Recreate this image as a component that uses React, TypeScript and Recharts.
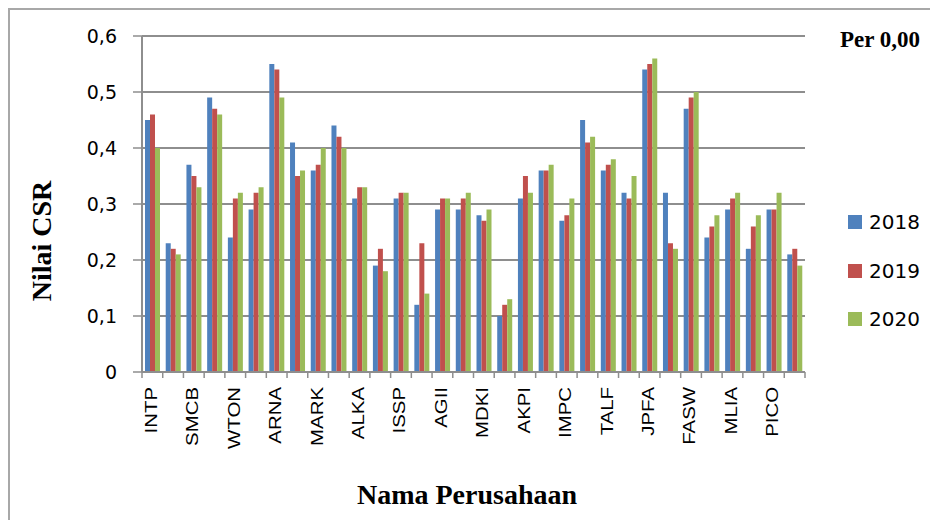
import React from "react"
import { BarChart, Bar, XAxis, YAxis, CartesianGrid, Legend } from "recharts"

// only every second company name is printed on the axis
const companies = [
  "INTP", "SMBR", "SMCB", "WSBP", "WTON", "AMFG", "ARNA", "KIAS",
  "MARK", "TOTO", "ALKA", "BTON", "ISSP", "LION", "AGII", "EKAD",
  "MDKI", "INCI", "AKPI", "APLI", "IMPC", "IGAR", "TALF", "TRST",
  "JPFA", "CPIN", "FASW", "INKP", "MLIA", "KDSI", "PICO", "SPMA",
]

const csr2018 = [
  0.45, 0.23, 0.37, 0.49, 0.24, 0.29, 0.55, 0.41, 0.36, 0.44, 0.31, 0.19, 0.31, 0.12, 0.29, 0.29,
  0.28, 0.1, 0.31, 0.36, 0.27, 0.45, 0.36, 0.32, 0.54, 0.32, 0.47, 0.24, 0.29, 0.22, 0.29, 0.21,
]
const csr2019 = [
  0.46, 0.22, 0.35, 0.47, 0.31, 0.32, 0.54, 0.35, 0.37, 0.42, 0.33, 0.22, 0.32, 0.23, 0.31, 0.31,
  0.27, 0.12, 0.35, 0.36, 0.28, 0.41, 0.37, 0.31, 0.55, 0.23, 0.49, 0.26, 0.31, 0.26, 0.29, 0.22,
]
const csr2020 = [
  0.4, 0.21, 0.33, 0.46, 0.32, 0.33, 0.49, 0.36, 0.4, 0.4, 0.33, 0.18, 0.32, 0.14, 0.31, 0.32,
  0.29, 0.13, 0.32, 0.37, 0.31, 0.42, 0.38, 0.35, 0.56, 0.22, 0.5, 0.28, 0.32, 0.28, 0.32, 0.19,
]

const yTicks = [0, 0.1, 0.2, 0.3, 0.4, 0.5, 0.6]

const series = [
  { key: "y2018", label: "2018", color: "#4F81BD" },
  { key: "y2019", label: "2019", color: "#C0504D" },
  { key: "y2020", label: "2020", color: "#9BBB59" },
]

const data = companies.map((name, i) => ({
  name,
  y2018: csr2018[i],
  y2019: csr2019[i],
  y2020: csr2020[i],
}))

// layout
const W = 938
const H = 528
const MARGIN = { top: 36, right: 133, left: 82, bottom: 56 }
const Y_AXIS_W = 60
const PLOT_LEFT = MARGIN.left + Y_AXIS_W
const PLOT_W = W - PLOT_LEFT - MARGIN.right
const AXIS_Y = 372
const GRID = "#8e8e8e"

const fmt = (v: number) => (v === 0 ? "0" : v.toFixed(1).replace(".", ","))

const CategoryTick = (props: any) => {
  const { x, payload, index } = props
  const bw = PLOT_W / companies.length
  const left = x - bw / 2
  return (
    <g>
      <line x1={left} x2={left} y1={AXIS_Y} y2={AXIS_Y + 6} stroke={GRID} strokeWidth={1.5} />
      {index === companies.length - 1 && (
        <line x1={left + bw} x2={left + bw} y1={AXIS_Y} y2={AXIS_Y + 6} stroke={GRID} strokeWidth={1.5} />
      )}
      {index % 2 === 0 && (
        <g transform={`translate(${x},${AXIS_Y + 15})`}>
          <text
            transform="rotate(-90) scale(1.2,1)"
            textAnchor="end"
            dy="0.26em"
            fontFamily="Liberation Sans, Arial, sans-serif"
            fontSize={17}
            fill="#000"
          >
            {payload.value}
          </text>
        </g>
      )}
    </g>
  )
}

const renderLegend = ({ payload }: any) => (
  <div style={{ fontFamily: "DejaVu Sans, sans-serif", fontSize: 20, color: "#000" }}>
    {payload.map((p: any) => (
      <div key={p.value} style={{ display: "flex", alignItems: "center", height: 48.5 }}>
        <span style={{ width: 14, height: 14, background: p.color, marginRight: 7, display: "inline-block" }} />
        <span style={{ lineHeight: 1 }}>{p.value}</span>
      </div>
    ))}
  </div>
)

const serif = "Liberation Serif, 'Times New Roman', serif"

export default function App() {
  return (
    <div style={{ position: "relative", width: 922, height: 512 }}>
      <div
        style={{
          position: "absolute",
          inset: 0,
          borderLeft: "2px solid #a8a8a8",
          borderTop: "2px solid #a8a8a8",
          boxSizing: "border-box",
        }}
      />
      <div style={{ position: "absolute", left: -8, top: -8, width: W, height: H }}>
        <BarChart width={W} height={H} data={data} margin={MARGIN} barGap={0} barSize={5}>
          <CartesianGrid horizontal vertical={false} stroke={GRID} strokeWidth={2} />
          <XAxis
            dataKey="name"
            interval={0}
            height={100}
            tick={<CategoryTick />}
            tickLine={false}
            axisLine={{ stroke: GRID, strokeWidth: 2 }}
          />
          <YAxis
            width={Y_AXIS_W}
            domain={[0, 0.6]}
            ticks={yTicks}
            tickFormatter={fmt}
            tickSize={9}
            tickMargin={16}
            tick={{ fill: "#000", fontSize: 19, fontFamily: "DejaVu Sans, sans-serif" }}
            tickLine={{ stroke: GRID, strokeWidth: 1.5 }}
            axisLine={{ stroke: GRID, strokeWidth: 2 }}
          />
          <Legend
            layout="vertical"
            align="center"
            verticalAlign="middle"
            content={renderLegend}
            wrapperStyle={{ position: "absolute", left: 848, top: 198, width: 90 }}
          />
          {series.map((s) => (
            <Bar key={s.key} dataKey={s.key} name={s.label} fill={s.color} isAnimationActive={false} />
          ))}
        </BarChart>
        <div
          style={{
            position: "absolute",
            left: 42,
            top: 241,
            transform: "translate(-50%, -50%) rotate(-90deg)",
            fontFamily: serif,
            fontWeight: "bold",
            fontSize: 28,
            lineHeight: 1,
            whiteSpace: "nowrap",
          }}
        >
          Nilai CSR
        </div>
        <div
          style={{
            position: "absolute",
            left: 467,
            top: 495,
            transform: "translate(-50%, -50%)",
            fontFamily: serif,
            fontWeight: "bold",
            fontSize: 28,
            lineHeight: 1,
            whiteSpace: "nowrap",
          }}
        >
          Nama Perusahaan
        </div>
        <div
          style={{
            position: "absolute",
            left: 840,
            top: 28,
            fontFamily: serif,
            fontWeight: "bold",
            fontSize: 23,
            lineHeight: 1,
            whiteSpace: "nowrap",
          }}
        >
          Per 0,00
        </div>
      </div>
    </div>
  )
}
